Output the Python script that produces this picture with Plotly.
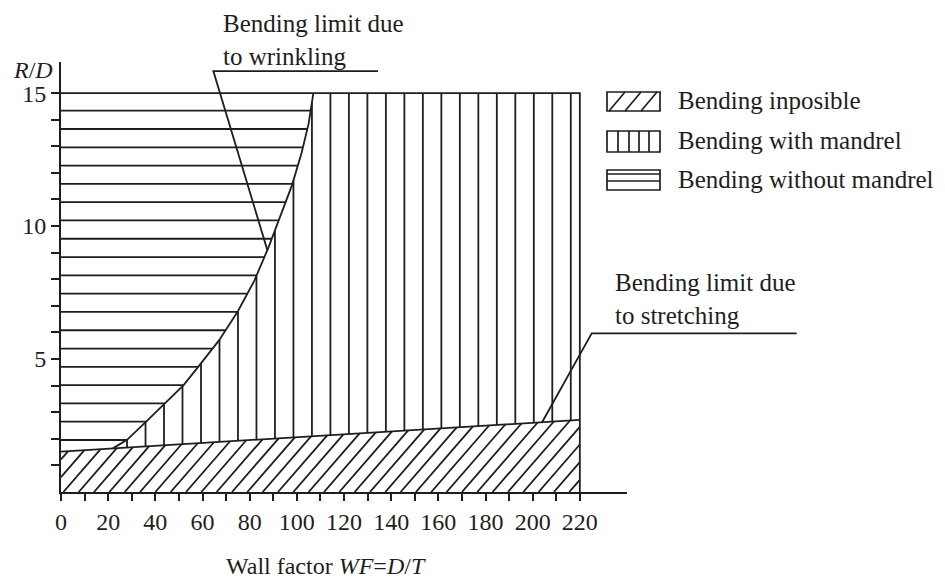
import numpy as np
import plotly.graph_objects as go

# ---------------- data ----------------
wf_wrinkle = [22, 28, 36, 44, 52, 59, 67, 75, 82, 88, 93, 98, 102, 105, 107]
rd_wrinkle = [1.64, 1.96, 2.64, 3.33, 4.02, 4.80, 5.70, 6.80, 7.95, 9.20, 10.35, 11.55, 12.75, 13.85, 15.0]
wf_stretch = [0, 220]
rd_stretch = [1.52, 2.71]
wf_max = 220
rd_max = 15
x_tick_vals = list(range(0, 221, 10))
x_tick_text = [str(v) if v % 20 == 0 else "" for v in x_tick_vals]
y_tick_vals = list(range(1, 16))
y_tick_text = [str(v) if v % 5 == 0 else "" for v in y_tick_vals]
legend_labels = ["Bending inposible", "Bending with mandrel", "Bending without mandrel"]
wrinkle_label = "Bending limit due<br>to wrinkling"
stretch_label = "Bending limit due<br>to stretching"
x_title = "Wall factor <i>WF</i>=<i>D</i>/<i>T</i>"
y_title = "<i>R</i>/<i>D</i>"

# ---------------- layout / style ----------------
# the page body has an 8px margin, so the figure is drawn 8px smaller
OFF = 8
W, H = 945 - OFF, 578 - OFF
P_LEFT, P_RIGHT, P_TOP, P_BOTTOM = 61, 627, 62, 492   # plot area in window pixels
ML, MT = P_LEFT - OFF, P_TOP - OFF
MR, MB = W - (P_RIGHT - OFF), H - (P_BOTTOM - OFF)
X_RANGE = [0, 240]
Y_RANGE = [0, 16.17]
PW, PH = P_RIGHT - P_LEFT, P_BOTTOM - P_TOP
INK = "#1e1e1e"
LW = 1.8
FONT = "Liberation Serif"
FS_TICK = 24
FS_TEXT = 25

H_START, H_STEP = 1.955, 0.688      # horizontal hatch (rd units)
V_START, V_STEP = 28.0, 7.84        # vertical hatch (wf units)
D_START, D_STEP, D_SLOPE = 1.0, 6.5, 0.102  # diagonal hatch


def px_x(px):
    return (px - P_LEFT) / PW


def px_y(py):
    return (P_BOTTOM - py) / PH


def dx_paper(x):
    return (x - X_RANGE[0]) / (X_RANGE[1] - X_RANGE[0])


def dy_paper(y):
    return (y - Y_RANGE[0]) / (Y_RANGE[1] - Y_RANGE[0])


def y_curve(x):
    return float(np.interp(x, wf_wrinkle, rd_wrinkle)) if x <= wf_wrinkle[-1] else rd_max


def x_curve(y):
    return float(np.interp(y, rd_wrinkle, wf_wrinkle))


def y_str(x):
    return float(np.interp(x, wf_stretch, rd_stretch))


def seg_trace(segs):
    xs, ys = [], []
    for (x0, y0, x1, y1) in segs:
        xs += [x0, x1, None]
        ys += [y0, y1, None]
    return go.Scatter(x=xs, y=ys, mode="lines", line=dict(color=INK, width=LW),
                      hoverinfo="skip", showlegend=False)


fig = go.Figure()

# horizontal hatch: bending without mandrel
h_segs = []
for y in np.arange(H_START, rd_max - 0.01, H_STEP):
    h_segs.append((0, y, x_curve(y), y))
fig.add_trace(seg_trace(h_segs))

# vertical hatch: bending with mandrel
v_segs = []
for x in np.arange(V_START, wf_max - 0.5, V_STEP):
    v_segs.append((x, y_str(x), x, y_curve(x)))
fig.add_trace(seg_trace(v_segs))

# diagonal hatch: bending impossible
a = rd_stretch[0]
b = (rd_stretch[1] - rd_stretch[0]) / (wf_stretch[1] - wf_stretch[0])
d_segs = []
for x0 in np.arange(D_START - 3 * D_STEP, wf_max, D_STEP):
    if x0 >= 0:
        sx, sy = x0, 0.0
    else:
        sx, sy = 0.0, -D_SLOPE * x0
        if sy >= y_str(0):
            continue
    ex = (a + D_SLOPE * x0) / (D_SLOPE - b)
    if ex > wf_max:
        ex = wf_max
    ey = D_SLOPE * (ex - x0)
    d_segs.append((sx, sy, ex, ey))
fig.add_trace(seg_trace(d_segs))

# boundaries
fig.add_trace(go.Scatter(x=wf_wrinkle, y=rd_wrinkle, mode="lines",
                         line=dict(color=INK, width=LW), hoverinfo="skip", showlegend=False))
fig.add_trace(go.Scatter(x=wf_stretch, y=rd_stretch, mode="lines",
                         line=dict(color=INK, width=LW), hoverinfo="skip", showlegend=False))
fig.add_trace(go.Scatter(x=[0, wf_max, wf_max], y=[rd_max, rd_max, 0], mode="lines",
                         line=dict(color=INK, width=LW), hoverinfo="skip", showlegend=False))

# wrinkling leader line
lead_x = 87.5
fig.add_trace(go.Scatter(x=[lead_x, 64.6, 134.4], y=[y_curve(lead_x), 15.83, 15.83], mode="lines",
                         line=dict(color=INK, width=LW), hoverinfo="skip", showlegend=False))

shapes = []
# stretching leader line (extends beyond plot area -> paper coords)
s_x = 204
shapes.append(dict(type="path", xref="paper", yref="paper",
                   path="M {:.4f},{:.4f} L {:.4f},{:.4f} L {:.4f},{:.4f}".format(
                       dx_paper(s_x), dy_paper(y_str(s_x)), px_x(591.7), px_y(333.3), px_x(796.7), px_y(333.3)),
                   line=dict(color=INK, width=LW)))

# manual legend
BX0, BX1 = 607, 660
boxes = [(92, 111), (131, 152), (170, 190)]


def pline(x0, y0, x1, y1):
    return dict(type="line", xref="paper", yref="paper", x0=px_x(x0), y0=px_y(y0),
                x1=px_x(x1), y1=px_y(y1), line=dict(color=INK, width=1.7))


for (t, btm) in boxes:
    shapes.append(dict(type="rect", xref="paper", yref="paper", x0=px_x(BX0), x1=px_x(BX1),
                       y0=px_y(btm), y1=px_y(t), line=dict(color=INK, width=1.7)))
t, btm = boxes[0]
for xb in [609, 625, 641]:
    shapes.append(pline(xb, btm, xb + 16, t))
t, btm = boxes[1]
for xv in [618, 629, 639, 649]:
    shapes.append(pline(xv, btm, xv, t))
t, btm = boxes[2]
for yh in [t + 4, t + 11]:
    shapes.append(pline(BX0, yh, BX1, yh))

annotations = []
for (lab, (t, btm)) in zip(legend_labels, boxes):
    annotations.append(dict(text=lab, xref="paper", yref="paper", x=px_x(676), y=px_y((t + btm) / 2 - 1),
                            xanchor="left", yanchor="middle", showarrow=False,
                            font=dict(family=FONT, size=FS_TEXT, color=INK)))
annotations.append(dict(text=wrinkle_label, xref="paper", yref="paper", x=px_x(221), y=px_y(8),
                        xanchor="left", yanchor="top", align="left", showarrow=False,
                        font=dict(family=FONT, size=FS_TEXT, color=INK)))
annotations.append(dict(text=stretch_label, xref="paper", yref="paper", x=px_x(613), y=px_y(267),
                        xanchor="left", yanchor="top", align="left", showarrow=False,
                        font=dict(family=FONT, size=FS_TEXT, color=INK)))
annotations.append(dict(text=x_title, xref="paper", yref="paper", x=px_x(326), y=px_y(566),
                        xanchor="center", yanchor="middle", showarrow=False,
                        font=dict(family=FONT, size=FS_TICK, color=INK)))
annotations.append(dict(text=y_title, xref="paper", yref="paper", x=px_x(33), y=px_y(70),
                        xanchor="center", yanchor="middle", showarrow=False,
                        font=dict(family=FONT, size=FS_TICK, color=INK)))

fig.update_layout(
    width=W, height=H,
    margin=dict(l=ML, r=MR, t=MT, b=MB, pad=0),
    paper_bgcolor="white", plot_bgcolor="white",
    showlegend=False,
    shapes=shapes,
    annotations=annotations,
    font=dict(family=FONT, size=FS_TICK, color=INK),
)
fig.update_xaxes(range=X_RANGE, showgrid=False, zeroline=False, showline=True,
                 linecolor=INK, linewidth=LW, ticks="outside", ticklen=7, tickwidth=LW,
                 tickcolor=INK, tickvals=x_tick_vals, ticktext=x_tick_text,
                 tickfont=dict(family=FONT, size=FS_TICK, color=INK))
fig.update_yaxes(range=Y_RANGE, showgrid=False, zeroline=False, showline=True,
                 linecolor=INK, linewidth=LW, ticks="outside", ticklen=8, tickwidth=LW,
                 tickcolor=INK, tickvals=y_tick_vals, ticktext=y_tick_text,
                 tickfont=dict(family=FONT, size=FS_TICK, color=INK))

fig.write_html("out.html")
